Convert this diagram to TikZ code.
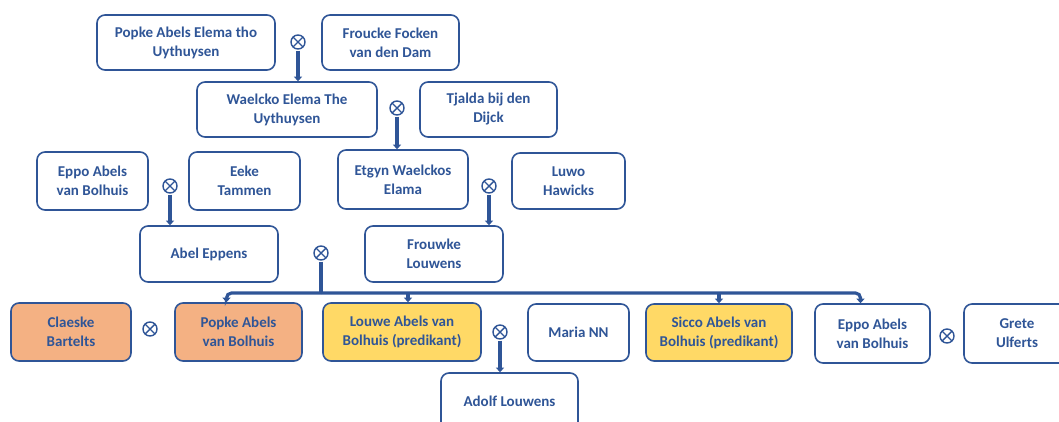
\documentclass[tikz,border=0pt]{standalone}
\usepackage{fontspec}
\setmainfont{Carlito}
\usetikzlibrary{arrows.meta}
\definecolor{stamblauw}{HTML}{2F5597}
\definecolor{oranje}{HTML}{F4B183}
\definecolor{geel}{HTML}{FFD966}

\begin{document}
\begin{tikzpicture}[x=1pt,y=-1pt,
  persoon/.style={draw=stamblauw, line width=1.6pt, rounded corners=8pt, fill=white, text=stamblauw, align=center, font=\fontsize{15}{19}\selectfont\bfseries, inner sep=1pt},
  huwelijk/.style={circle, draw=stamblauw, line width=1.4pt, minimum size=14pt, inner sep=0pt, path picture={\draw[stamblauw, line width=1.4pt] (path picture bounding box.north west) -- (path picture bounding box.south east) (path picture bounding box.north east) -- (path picture bounding box.south west);}},
  stam/.style={draw=stamblauw, line width=3.2pt},
  kind/.style={stam, -{Triangle[width=8pt,length=4.5pt]}}
]
\useasboundingbox (0,0) rectangle (1059,421);
\clip (0,0) rectangle (1059,421);

% Grootouders
\node[persoon, minimum width=178pt, minimum height=55pt] (popkeE) at (186,42.5) {Popke Abels Elema tho\\Uythuysen};
\node[persoon, minimum width=137pt, minimum height=55pt] (froucke) at (390.5,42.5) {Froucke Focken\\van den Dam};
\node[huwelijk] (m1) at (298,42) {};

\node[persoon, minimum width=180pt, minimum height=55pt] (waelcko) at (287,109.5) {Waelcko Elema The\\Uythuysen};
\node[persoon, minimum width=137pt, minimum height=55pt] (tjalda) at (488.5,109.5) {Tjalda bij den\\Dijck};
\node[huwelijk] (m2) at (397,108) {};

% Ouders
\node[persoon, minimum width=111pt, minimum height=58pt] (eppoA) at (92.5,181) {Eppo Abels\\van Bolhuis};
\node[persoon, minimum width=111pt, minimum height=58pt] (eeke) at (244.5,181) {Eeke\\Tammen};
\node[huwelijk] (m3) at (170,186) {};

\node[persoon, minimum width=130pt, minimum height=59pt] (etgyn) at (403,179.5) {Etgyn Waelckos\\Elama};
\node[persoon, minimum width=113pt, minimum height=56pt] (luwo) at (568.5,181) {Luwo\\Hawicks};
\node[huwelijk] (m4) at (489,186) {};

\node[persoon, minimum width=138pt, minimum height=56pt] (abel) at (209,254) {Abel Eppens};
\node[persoon, minimum width=138pt, minimum height=56pt] (frouwke) at (434,254) {Frouwke\\Louwens};
\node[huwelijk] (m5) at (321,253) {};

% Kinderen
\node[persoon, fill=oranje, minimum width=120pt, minimum height=58pt] (claeske) at (71,332) {Claeske\\Bartelts};
\node[huwelijk] (m6) at (150,329) {};
\node[persoon, fill=oranje, minimum width=127pt, minimum height=58pt] (popkeB) at (238.5,332) {Popke Abels\\van Bolhuis};
\node[persoon, fill=geel, minimum width=158pt, minimum height=58pt] (louwe) at (402,332) {Louwe Abels van\\Bolhuis (predikant)};
\node[huwelijk] (m7) at (500,332) {};
\node[persoon, minimum width=101pt, minimum height=57pt] (maria) at (578.5,332.5) {Maria NN};
\node[persoon, fill=geel, minimum width=146pt, minimum height=57pt] (sicco) at (719,332.5) {Sicco Abels van\\Bolhuis (predikant)};
\node[persoon, minimum width=115pt, minimum height=59pt] (eppoB) at (872.5,333.5) {Eppo Abels\\van Bolhuis};
\node[huwelijk] (m8) at (947,336) {};
\node[persoon, minimum width=106pt, minimum height=59pt] (grete) at (1017,333.5) {Grete\\Ulferts};

\node[persoon, minimum width=137pt, minimum height=57pt] (adolf) at (509.5,401.5) {Adolf Louwens};

% Lijnen
\draw[kind, shorten <=1pt] (m1) -- (m1 |- waelcko.north);
\draw[kind, shorten <=1pt] (m2) -- (m2 |- etgyn.north);
\draw[kind, shorten <=1pt] (m3) -- (m3 |- abel.north);
\draw[kind, shorten <=1pt] (m4) -- (m4 |- frouwke.north);
\draw[kind, shorten <=1pt] (m7) -- (m7 |- adolf.north);

\coordinate (bar) at (321,293);
\draw[stam, shorten <=1pt] (m5) -- (bar);
\draw[kind, rounded corners=5pt] (bar) -| ([xshift=-12pt]popkeB.north);
\draw[kind, rounded corners=5pt] (bar) -| ([xshift=-12pt]eppoB.north);
\draw[kind] ([xshift=6pt]louwe.north |- bar) -- ([xshift=6pt]louwe.north);
\draw[kind] (sicco.north |- bar) -- (sicco.north);
\end{tikzpicture}
\end{document}
